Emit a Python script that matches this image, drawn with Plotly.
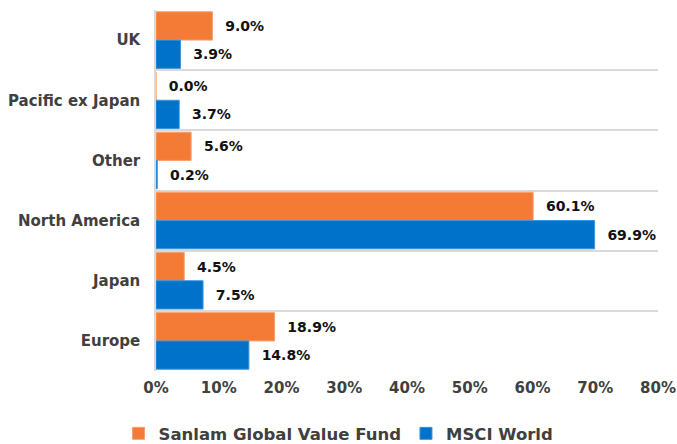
import plotly.graph_objects as go

categories = ["UK", "Pacific ex Japan", "Other", "North America", "Japan", "Europe"]
sanlam = [9.0, 0.0, 5.6, 60.1, 4.5, 18.9]
msci = [3.9, 3.7, 0.2, 69.9, 7.5, 14.8]
x_ticks = [0, 10, 20, 30, 40, 50, 60, 70, 80]
x_tick_labels = [f"{v}%" for v in x_ticks]

FONT = "DejaVu Sans"
LABEL_FONT = dict(family=FONT, size=14, color="#111111", weight="bold")

fig = go.Figure()
fig.add_trace(go.Bar(
    y=categories, x=sanlam, orientation="h", name="Sanlam Global Value Fund",
    marker=dict(color="#F47B35", line=dict(color="#F8A070", width=1)),
    text=[f"  {v:.1f}%" for v in sanlam], textposition="outside",
    textfont=LABEL_FONT, cliponaxis=False,
))
fig.add_trace(go.Bar(
    y=categories, x=msci, orientation="h", name="MSCI World",
    marker=dict(color="#0072C9", line=dict(color="#3A94DA", width=1)),
    text=[f"  {v:.1f}%" for v in msci], textposition="outside",
    textfont=LABEL_FONT, cliponaxis=False,
))

fig.update_layout(
    width=677, height=444,
    margin=dict(l=156, r=19, t=10, b=73, autoexpand=False),
    paper_bgcolor="white", plot_bgcolor="white",
    barmode="group", bargap=0.06, bargroupgap=0.0,
    font=dict(family=FONT, color="#404040"),
    showlegend=True,
    legend=dict(orientation="h", xref="container", x=0.5, xanchor="center",
                y=-0.125, yanchor="top",
                font=dict(family=FONT, size=16.5, color="#404040", weight="bold"),
                traceorder="normal", itemwidth=30),
    uniformtext=dict(mode=False),
)
fig.update_xaxes(
    range=[0, 80], tickvals=x_ticks, ticktext=x_tick_labels,
    showgrid=False, zeroline=False, showline=False,
    tickfont=dict(family=FONT, size=15, color="#404040", weight="bold"),
    ticks="", ticklabelstandoff=6,
)
fig.update_yaxes(
    autorange="reversed", type="category", tickson="boundaries",
    showgrid=True, gridcolor="#D9D9D9", gridwidth=1.5,
    showline=True, linecolor="#D9D9D9", linewidth=1.5,
    ticks="", ticklabelstandoff=11,
    tickfont=dict(family=FONT, size=15, color="#404040", weight="bold"),
)
fig.write_html("out.html", config={"displayModeBar": False},
               post_script="document.body.style.margin='0';")
